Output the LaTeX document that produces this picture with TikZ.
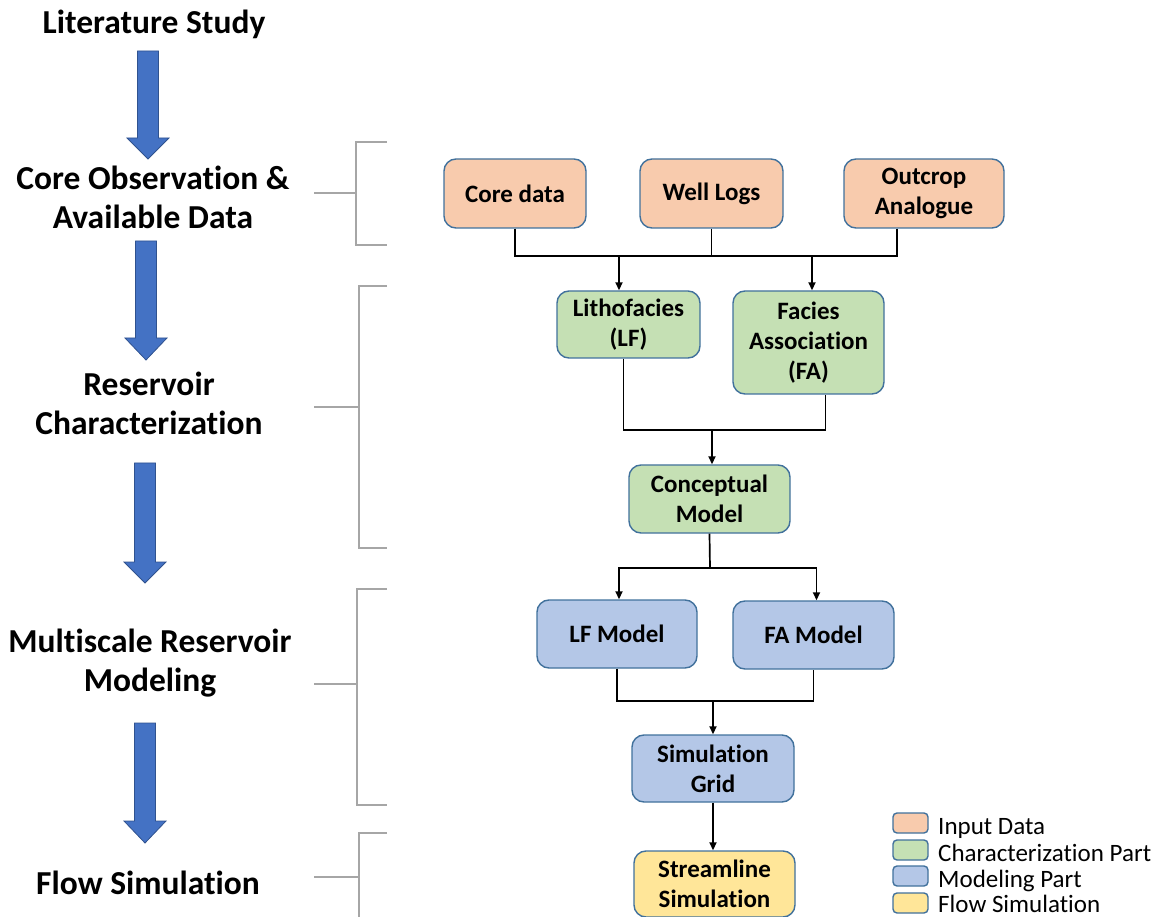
\documentclass[tikz,border=0pt]{standalone}
\usepackage{fontspec}
\setmainfont{Carlito}[RawFeature={-liga;-calt;-clig;-dlig}]
\usepackage{xcolor}
\usetikzlibrary{arrows.meta, calc}

\definecolor{inputfill}{HTML}{F8CBAD}
\definecolor{charfill}{HTML}{C5E0B4}
\definecolor{modelfill}{HTML}{B4C7E7}
\definecolor{flowfill}{HTML}{FFE699}
\definecolor{boxline}{HTML}{41719C}
\definecolor{stepblue}{HTML}{4472C4}
\definecolor{stepline}{HTML}{2F528F}
\definecolor{bracketgray}{HTML}{A6A6A6}

\tikzset{
  box/.style={draw=boxline, line width=1.4pt, rounded corners=12pt, align=center,
    inner sep=0pt, font=\bfseries\fontsize{25}{30}\selectfont},
  stage/.style={align=center, inner sep=0pt, font=\bfseries\fontsize{33.5}{39}\selectfont},
  link/.style={line width=1.7pt, black},
  bracket/.style={line width=2pt, bracketgray},
  legswatch/.style={draw=boxline, line width=1.4pt, rounded corners=4pt,
    minimum width=35pt, minimum height=20pt, inner sep=0pt},
  legtext/.style={anchor=base west, inner sep=0pt, font=\fontsize{25}{30}\selectfont}
}

\begin{document}
\begin{tikzpicture}[x=1pt, y=-1pt, >={Triangle[length=8pt, width=7pt]}]
    \useasboundingbox (0,0) rectangle (1163,917);

    % stages on the left
    \node[stage] (lit) at (154,24) {Literature Study};
    \node[stage] (obs) at (153,197) {Core Observation \&\\Available Data};
    \node[stage] (rchar) at (149,403) {Reservoir\\Characterization};
    \node[stage] (msmod) at (150,663) {Multiscale Reservoir\\Modeling};
    \node[stage] (flow) at (148,883) {Flow Simulation};

    % blue arrows
    \foreach \cx/\ya/\yb/\yc in {148/51/138/159, 146/241/338/360, 145/463/562/583, 145/723/821/843} {
        \filldraw[fill=stepblue, draw=stepline, line width=0.8pt]
            (\cx-10.5,\ya) -- (\cx+10.5,\ya) -- (\cx+10.5,\yb) -- (\cx+21,\yb)
            -- (\cx,\yc) -- (\cx-21,\yb) -- (\cx-10.5,\yb) -- cycle;
    }

    % brackets
    \foreach \xv/\ya/\ym/\yb in {356/142/193/245, 359/286/407/548, 357/589/684/805} {
        \draw[bracket] (387,\ya) -- (\xv,\ya) -- (\xv,\yb) -- (387,\yb);
        \draw[bracket] (314,\ym) -- (\xv,\ym);
    }
    \draw[bracket] (387,833) -- (359,833) -- (359,917);
    \draw[bracket] (314,877) -- (359,877);

    % input data
    \node[box, fill=inputfill, minimum width=142pt, minimum height=69pt] (core) at (515,193.5) {Core data};
    \node[box, fill=inputfill, minimum width=143pt, minimum height=69pt] (well) at (711.5,193.5) {Well Logs};
    \node[box, fill=inputfill, minimum width=160pt, minimum height=69pt] (outcrop) at (924,193.5) {Outcrop\\Analogue};

    % characterization
    \node[box, fill=charfill, minimum width=143pt, minimum height=67pt] (litho) at (628.5,324.5) {Lithofacies\\(LF)};
    \node[box, fill=charfill, minimum width=151pt, minimum height=103pt] (facies) at (808.5,342.5) {Facies\\Association\\(FA)};
    \node[box, fill=charfill, minimum width=161pt, minimum height=68pt] (concept) at (709.5,499) {Conceptual\\Model};

    % modeling
    \node[box, fill=modelfill, minimum width=160pt, minimum height=68pt] (lfmodel) at (617,634) {LF Model};
    \node[box, fill=modelfill, minimum width=161pt, minimum height=68pt] (famodel) at (813.5,635) {FA Model};
    \node[box, fill=modelfill, minimum width=162pt, minimum height=67pt] (grid) at (713,768.5) {Simulation\\Grid};

    % flow simulation
    \node[box, fill=flowfill, minimum width=161pt, minimum height=66pt] (stream) at (714.5,884) {Streamline\\Simulation};

    % connectors
    \coordinate (busA) at (712,256);
    \coordinate (tapLF) at (619,256);
    \coordinate (tapFA) at (812,256);
    \draw[link] (core.south) |- (busA);
    \draw[link] (well.south) -- (well.south |- busA);
    \draw[link] ([xshift=-27pt]outcrop.south) |- (busA);
    \draw[link, ->] (tapLF) -- (tapLF |- litho.north);
    \draw[link, ->] (tapFA) -- (tapFA |- facies.north);

    \coordinate (busB) at (712,430);
    \draw[link] ([xshift=-5pt]litho.south) |- (busB) -| ([xshift=17pt]facies.south);
    \draw[link, ->] (busB) -- (busB |- concept.north);

    \coordinate (busC) at (710,568);
    \draw[link] (concept.south) -- (busC);
    \draw[link, ->] (busC) -| ([xshift=2pt]lfmodel.north);
    \draw[link, ->] (busC) -| ([xshift=3pt]famodel.north);

    \coordinate (busD) at (713,701);
    \draw[link] (lfmodel.south) |- (busD) -| (famodel.south);
    \draw[link, ->] (busD) -- (busD |- grid.north);

    \draw[link, ->] (grid.south) -- (grid.south |- stream.north);

    % legend
    \foreach \ys/\yt/\c/\t in {823/834/inputfill/Input Data, 850/861/charfill/Characterization Part,
                               876/887/modelfill/Modeling Part, 903/912/flowfill/Flow Simulation} {
        \node[legswatch, fill=\c] (sw\c) at (910.5,\ys) {};
        \node[legtext] (lt\c) at (938,\yt) {\t};
    }
\end{tikzpicture}
\end{document}
